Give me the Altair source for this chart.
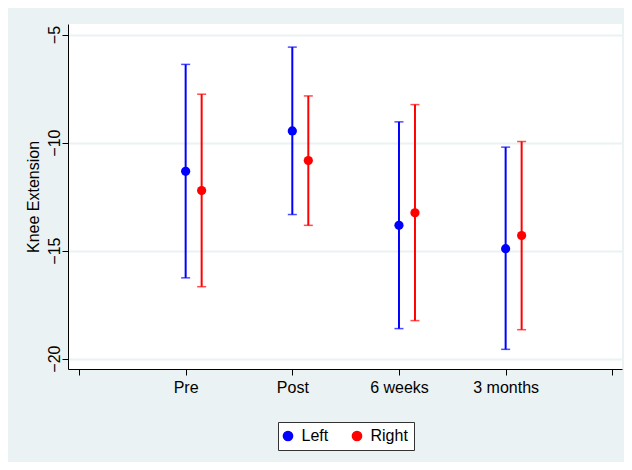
import json
import altair as alt
import pandas as pd

times = ["Pre", "Post", "6 weeks", "3 months"]
sides = ["Left", "Right"]
left_mean = [-11.33, -9.46, -13.83, -14.91]
left_lo = [-16.26, -13.33, -18.61, -19.57]
left_hi = [-6.38, -5.58, -9.04, -10.21]
right_mean = [-12.22, -10.83, -13.25, -14.30]
right_lo = [-16.67, -13.83, -18.24, -18.66]
right_hi = [-7.76, -7.84, -8.24, -9.95]
y_ticks = [-20, -15, -10, -5]
x_ticks = [0, 1, 2, 3, 4, 5]

rows = []
for i, t in enumerate(times):
    rows.append({"time": t, "idx": i + 1, "side": "Left",
                 "mean": left_mean[i], "lo": left_lo[i], "hi": left_hi[i]})
    rows.append({"time": t, "idx": i + 1, "side": "Right",
                 "mean": right_mean[i], "lo": right_lo[i], "hi": right_hi[i]})
df = pd.DataFrame(rows)

FONT = "Liberation Sans"
BG = "#EAF2F3"
label_expr = ("datum.value >= 1 && datum.value <= 4 ? " + json.dumps(times)
              + "[datum.value - 1] : ''")

xscale = alt.Scale(domain=[-0.103, 5.091], nice=False, zero=False)
yscale = alt.Scale(domain=[-20.48, -4.51], nice=False, zero=False)
cscale = alt.Scale(domain=sides, range=["#0000FF", "#FF0000"])

base = alt.Chart(df).transform_calculate(
    xpos="datum.idx + (datum.side == 'Right' ? 0.15 : 0)"
)

x_enc = alt.X("xpos:Q", scale=xscale, title=None,
              axis=alt.Axis(values=x_ticks, labelExpr=label_expr, grid=False,
                            domainColor="black", tickColor="black", tickSize=6,
                            labelPadding=4, labelFontSize=16, labelFont=FONT,
                            labelColor="black", labelFlush=False))

points = base.mark_point(filled=True, opacity=1, size=85, shape="circle").encode(
    x=x_enc,
    y=alt.Y("mean:Q", scale=yscale, title="Knee Extension",
            axis=alt.Axis(values=y_ticks, format="d", grid=True,
                          gridColor=BG, gridWidth=2,
                          domainColor="black", tickColor="black", tickSize=6,
                          labelAngle=270, labelAlign="center",
                          labelBaseline="bottom", labelPadding=0,
                          labelFontSize=16, labelFont=FONT, labelColor="black",
                          titleFontSize=16, titleFont=FONT, titleColor="black",
                          titleFontWeight="normal", titleAngle=270,
                          titleX=-35, titleY=172.5, titleAlign="center",
                          titleBaseline="middle")),
    color=alt.Color("side:N", scale=cscale,
                    legend=alt.Legend(title=None, orient="none", legendX=210,
                                      legendY=398, direction="horizontal",
                                      symbolType="circle", symbolSize=85,
                                      symbolOffset=-4,
                                      labelFontSize=16, labelFont=FONT,
                                      labelColor="black", labelOffset=5.5,
                                      columnPadding=20, padding=6,
                                      fillColor="white", strokeColor="#333333")),
)

rules = base.mark_rule(strokeWidth=2).encode(
    x="xpos:Q",
    y="lo:Q",
    y2="hi:Q",
    color=alt.Color("side:N", scale=cscale, legend=None),
)

caps_lo = base.mark_tick(orient="horizontal", size=9, thickness=1.5).encode(
    x="xpos:Q",
    y="lo:Q",
    color=alt.Color("side:N", scale=cscale, legend=None),
)
caps_hi = base.mark_tick(orient="horizontal", size=9, thickness=1.5).encode(
    x="xpos:Q",
    y="hi:Q",
    color=alt.Color("side:N", scale=cscale, legend=None),
)

chart = alt.layer(points, rules, caps_lo, caps_hi).properties(
    width=554, height=345,
    autosize=alt.AutoSizeParams(type="none"),
    padding={"left": 60, "top": 16, "right": 2, "bottom": 93},
    background=BG,
).configure_view(fill="white", stroke=None)

chart.save("out.html", embed_options={"renderer": "svg", "actions": False})
